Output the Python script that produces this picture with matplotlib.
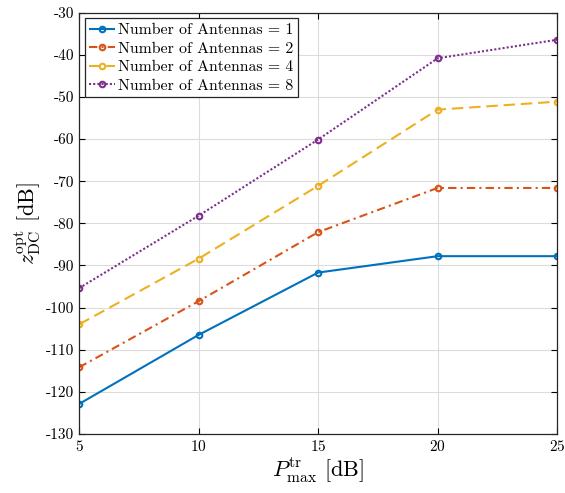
import matplotlib
matplotlib.use('Agg')
import matplotlib.pyplot as plt

plt.rcParams['font.family'] = 'cmr10'
plt.rcParams['mathtext.fontset'] = 'cm'
plt.rcParams['axes.unicode_minus'] = False
plt.rcParams['axes.formatter.use_mathtext'] = True

# Données
p_max = [5, 10, 15, 20, 25]
z_1 = [-122.9, -106.5, -91.7, -87.8, -87.8]
z_2 = [-114.2, -98.5, -82.1, -71.6, -71.6]
z_4 = [-104.0, -88.4, -71.1, -53.0, -51.1]
z_8 = [-95.4, -78.2, -60.1, -40.8, -36.4]
labels = ['Number of Antennas = 1', 'Number of Antennas = 2',
          'Number of Antennas = 4', 'Number of Antennas = 8']

fig = plt.figure(figsize=(5.65, 4.93), dpi=100)
ax = fig.add_axes([0.14, 0.12, 0.846, 0.854])

styles = [('#0072BD', (0, ())), ('#D95319', (0, (4, 2, 1, 2))),
          ('#EDB120', (0, (5.5, 2.8))), ('#7E2F8E', (0, (1, 1)))]
for z, lab, (c, ls) in zip([z_1, z_2, z_4, z_8], labels, styles):
    ax.plot(p_max, z, color=c, linestyle=ls, linewidth=1.5, marker='o',
            markersize=4, markerfacecolor='none', markeredgewidth=1.5, label=lab)

ax.set_xlim(5, 25)
ax.set_ylim(-130, -30)
ax.set_xticks([5, 10, 15, 20, 25])
ax.set_yticks(range(-130, -29, 10))
ax.set_yticklabels([str(v) for v in range(-130, -29, 10)])
ax.grid(True, color='#dcdcdc', linewidth=0.8)
ax.tick_params(direction='in', top=True, right=True, labelsize=11, length=4)
for s in ax.spines.values():
    s.set_color('#262626')
    s.set_linewidth(0.9)

ax.set_xlabel(r'$P_{\max}^{\mathrm{tr}}$ [dB]', fontsize=16, labelpad=2)
ax.set_ylabel(r'$z_{\mathrm{DC}}^{\mathrm{opt}}$ [dB]', fontsize=16, labelpad=2)

leg = ax.legend(loc='upper left', fontsize=11.4, fancybox=False, framealpha=1,
                edgecolor='#262626', handlelength=1.6, handletextpad=0.2,
                borderpad=0.3, labelspacing=0.28, borderaxespad=0.35)
leg.get_frame().set_linewidth(0.9)

plt.savefig('out.png', dpi=100)
